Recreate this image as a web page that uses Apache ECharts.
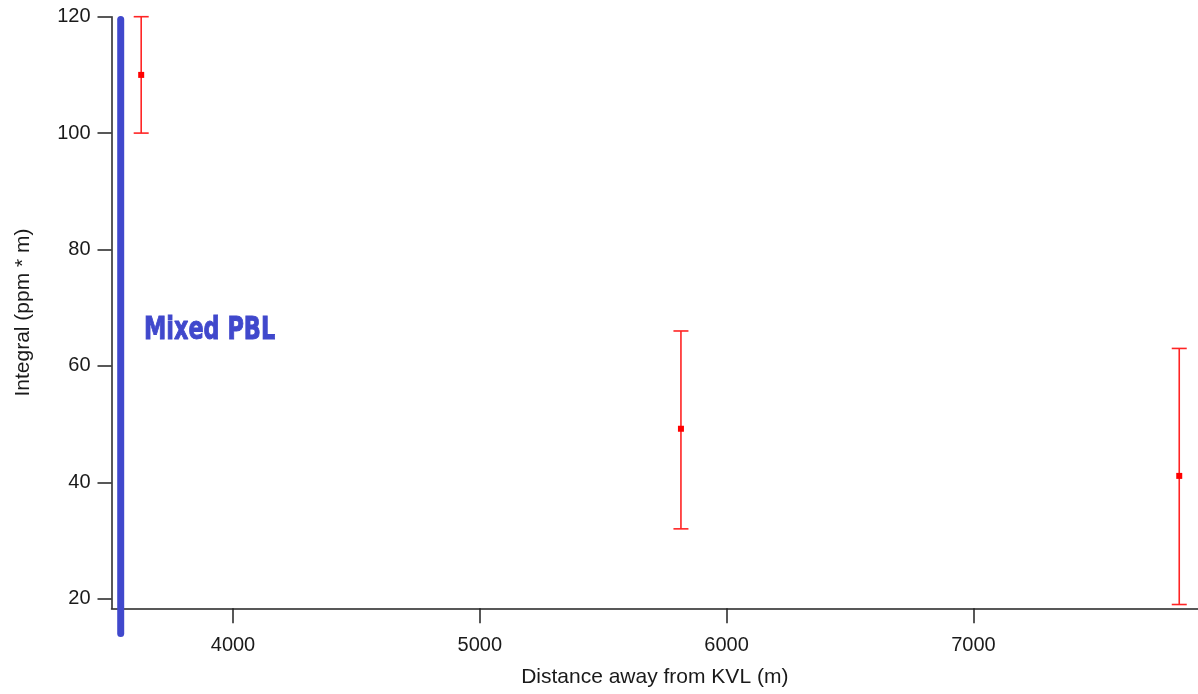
<!DOCTYPE html>
<html>
<head>
<meta charset="utf-8">
<style>
  html, body { margin: 0; padding: 0; background: #fff; }
  #chart { width: 1198px; height: 694px; }
</style>
<script src="https://cdn.jsdelivr.net/npm/echarts@6/dist/echarts.min.js"></script>
</head>
<body>
<div id="chart"></div>
<script>
// Measured integrals with their uncertainty ranges
const distance = [3628, 5815, 7834];
const integral = [110, 49.2, 41.1];
const errLow = [100, 32, 19];
const errHigh = [120, 66, 63];

// Mixed planetary boundary layer marker (vertical line)
const pblX = [3545, 3545];
const pblY = [119.5, 14];
const pblLabel = 'Mixed PBL';

// Axis ticks
const xTicks = [4000, 5000, 6000, 7000];
const yTicks = [20, 40, 60, 80, 100, 120];

const xTitle = 'Distance away from KVL (m)';
const yTitle = 'Integral (ppm * m)';

const errData = distance.map((d, i) => [d, integral[i], errLow[i], errHigh[i]]);
const pblData = pblX.map((x, i) => [x, pblY[i]]);

const chart = echarts.init(document.getElementById('chart'), null, { renderer: 'canvas' });

const axisFont = { fontFamily: 'Liberation Sans, Arial, sans-serif', color: '#1a1a1a' };
const plain = v => String(v);

chart.setOption({
  animation: false,
  backgroundColor: '#fff',
  grid: { left: 111.5, top: 16.7, right: 0, bottom: 85.7 },
  xAxis: {
    type: 'value',
    min: 3507.7,
    max: 7910,
    name: xTitle,
    nameLocation: 'middle',
    nameGap: 58,
    nameTextStyle: Object.assign({ fontSize: 21 }, axisFont),
    axisLine: { show: true, onZero: false, lineStyle: { color: '#222', width: 1.5 } },
    axisTick: { show: true, length: 15, customValues: xTicks, lineStyle: { color: '#222', width: 1.5 } },
    axisLabel: Object.assign({ fontSize: 20, margin: 27, customValues: xTicks, formatter: plain }, axisFont),
    splitLine: { show: false }
  },
  yAxis: {
    type: 'value',
    min: 18.35,
    max: 120,
    name: yTitle,
    nameLocation: 'middle',
    nameGap: 78,
    nameTextStyle: Object.assign({ fontSize: 21 }, axisFont),
    axisLine: { show: true, onZero: false, lineStyle: { color: '#222', width: 1.5 } },
    axisTick: { show: true, length: 14, customValues: yTicks, lineStyle: { color: '#222', width: 1.5 } },
    axisLabel: Object.assign({ fontSize: 20, margin: 21, customValues: yTicks, formatter: plain }, axisFont),
    splitLine: { show: false }
  },
  graphic: [{
    type: 'text',
    x: 144,
    y: 331,
    scaleX: 0.7,
    style: {
      text: pblLabel,
      x: 0,
      y: 0,
      align: 'left',
      verticalAlign: 'middle',
      font: 'bold 32px "DejaVu Sans", sans-serif',
      fill: '#4048CC',
      stroke: '#4048CC',
      lineWidth: 1
    },
    z: 10
  }],
  series: [
    {
      type: 'line',
      data: pblData,
      symbol: 'none',
      clip: false,
      lineStyle: { color: '#4048CC', width: 7, cap: 'round' },
      z: 3
    },
    {
      type: 'custom',
      data: errData,
      clip: false,
      renderItem: function (params, api) {
        const x = api.value(0);
        const c = api.coord([x, api.value(1)]);
        const lo = api.coord([x, api.value(2)]);
        const hi = api.coord([x, api.value(3)]);
        const half = 7.5;
        const stroke = { stroke: '#ff2424', lineWidth: 1.6 };
        return {
          type: 'group',
          children: [
            { type: 'line', shape: { x1: lo[0], y1: lo[1], x2: hi[0], y2: hi[1] }, style: stroke },
            { type: 'line', shape: { x1: hi[0] - half, y1: hi[1], x2: hi[0] + half, y2: hi[1] }, style: stroke },
            { type: 'line', shape: { x1: lo[0] - half, y1: lo[1], x2: lo[0] + half, y2: lo[1] }, style: stroke },
            { type: 'rect', shape: { x: c[0] - 3, y: c[1] - 3, width: 6, height: 6 }, style: { fill: '#ff0000' } }
          ]
        };
      },
      z: 4
    }
  ]
});
</script>
</body>
</html>
